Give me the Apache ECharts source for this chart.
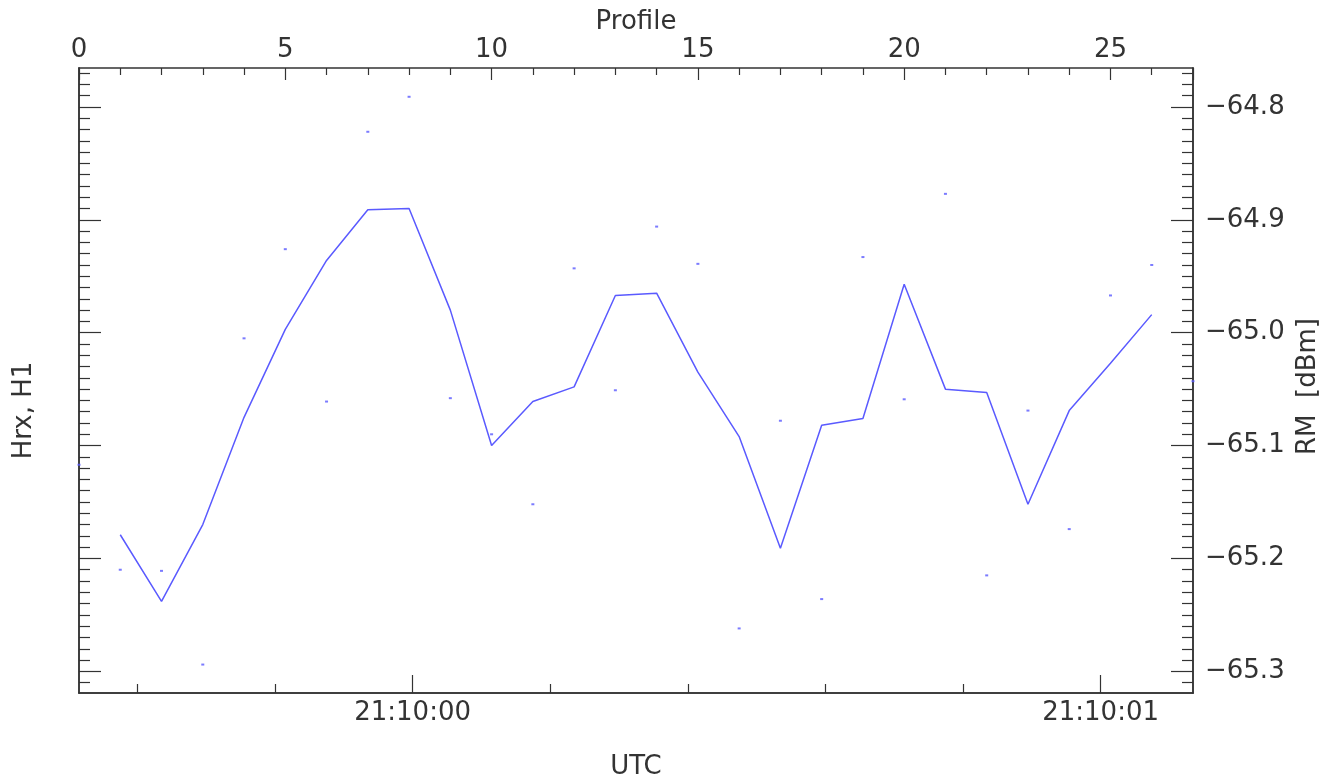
<!DOCTYPE html>
<html>
<head>
<meta charset="utf-8">
<script src="https://cdn.jsdelivr.net/npm/echarts@6/dist/echarts.min.js"></script>
<style>
html,body{margin:0;padding:0;background:#fff;}
#chart{width:1341px;height:780px;}
</style>
</head>
<body>
<div id="chart"></div>
<script>
// Profile numbers for the single-sample dots (0..27) and the smoothed line (1..26)
const dotProfiles = [0,1,2,3,4,5,6,7,8,9,10,11,12,13,14,15,16,17,18,19,20,21,22,23,24,25,26,27];
const dotValues = [-65.117,-65.210,-65.211,-65.294,-65.005,-64.926,-65.061,-64.822,-64.791,-65.058,
  -65.090,-65.152,-64.943,-65.051,-64.906,-64.939,-65.262,-65.078,-65.236,-64.933,
  -65.059,-64.877,-65.215,-65.069,-65.174,-64.967,-64.940,-65.043];
const lineProfiles = [1,2,3,4,5,6,7,8,9,10,11,12,13,14,15,16,17,18,19,20,21,22,23,24,25,26];
const lineValues = [-65.179,-65.238,-65.170,-65.075,-64.997,-64.936,-64.891,-64.890,-64.980,-65.100,
  -65.061,-65.048,-64.967,-64.965,-65.035,-65.092,-65.191,-65.082,-65.076,-64.957,
  -65.050,-65.053,-65.152,-65.069,-65.027,-64.984];

// Axis ranges and tick labels
const profileRange = [0, 27];
const profileTickLabels = [0, 5, 10, 15, 20, 25];
const rmRange = [-65.3192, -64.7655];
const rmMajorTicks = [-65.3,-65.2,-65.1,-65.0,-64.9,-64.8];
const rmMinorTicks = [];
for (let k = -6531; k <= -6477; k++) { if (k % 10 !== 0) rmMinorTicks.push(k/100); }
// UTC axis in seconds relative to 21:10:00
const utcRange = [-0.4849, 1.1343];
const utcMajorTicks = [0, 1];
const utcMajorLabels = ['21:10:00', '21:10:01'];
const utcMinorTicks = [-0.4,-0.2,0.2,0.4,0.6,0.8];

const FONT = 'DejaVu Sans';
const FS = 26;
const TXT = '#333';
const LINE = '#333';
const BLUE = '#5a5aff';

const chart = echarts.init(document.getElementById('chart'), null, {renderer:'canvas'});

function baseAxis(extra) {
  return Object.assign({
    type: 'value',
    splitLine: {show:false},
    axisLine: {show:true, onZero:false, lineStyle:{color:LINE, width:1.5}},
    nameMoveOverlap: false
  }, extra);
}

const option = {
  animation: false,
  backgroundColor: '#fff',
  grid: {left:79, right:148, top:68, bottom:87, containLabel:false, outerBoundsMode:'none'},
  xAxis: [
    baseAxis({
      position:'top', min:profileRange[0], max:profileRange[1], interval:5,
      name:'Profile', nameLocation:'middle', nameGap:33,
      nameTextStyle:{fontFamily:FONT, fontSize:FS, color:TXT},
      axisTick:{show:true, inside:true, length:12, lineStyle:{color:LINE, width:1.2}},
      minorTick:{show:true, splitNumber:5, length:7, lineStyle:{color:LINE, width:1.2}},
      axisLabel:{show:true, margin:5, fontFamily:FONT, fontSize:FS, color:TXT,
        customValues: profileTickLabels}
    }),
    baseAxis({
      position:'bottom', min:utcRange[0], max:utcRange[1],
      name:'UTC', nameLocation:'middle', nameGap:61,
      nameTextStyle:{fontFamily:FONT, fontSize:FS, color:TXT},
      axisTick:{show:true, inside:true, length:18, customValues:utcMajorTicks, lineStyle:{color:LINE, width:1.2}},
      axisLabel:{show:true, margin:7, fontFamily:FONT, fontSize:FS, color:TXT, customValues:utcMajorTicks,
        formatter: v => utcMajorLabels[utcMajorTicks.indexOf(Math.round(v))] || ''}
    }),
    baseAxis({
      position:'bottom', min:utcRange[0], max:utcRange[1],
      axisTick:{show:true, inside:true, length:9, customValues:utcMinorTicks, lineStyle:{color:LINE, width:1.2}},
      axisLabel:{show:false}
    })
  ],
  yAxis: [
    baseAxis({
      position:'left', min:rmRange[0], max:rmRange[1],
      name:'Hrx, H1', nameLocation:'middle', nameGap:42, nameRotate:90,
      nameTextStyle:{fontFamily:FONT, fontSize:FS, color:TXT, padding:[0,60,0,0]},
      axisTick:{show:true, inside:true, length:22, customValues:rmMajorTicks, lineStyle:{color:LINE, width:1.2}},
      axisLabel:{show:false}
    }),
    baseAxis({
      position:'left', min:rmRange[0], max:rmRange[1],
      axisTick:{show:true, inside:true, length:11, customValues:rmMinorTicks, lineStyle:{color:LINE, width:1.2}},
      axisLabel:{show:false}
    }),
    baseAxis({
      position:'right', min:rmRange[0], max:rmRange[1],
      name:'RM  [dBm]', nameLocation:'middle', nameGap:102, nameRotate:90,
      nameTextStyle:{fontFamily:FONT, fontSize:FS, color:TXT, padding:[0,12,0,0]},
      axisTick:{show:true, inside:true, length:22, customValues:rmMajorTicks, lineStyle:{color:LINE, width:1.2}},
      axisLabel:{show:true, margin:12, fontFamily:FONT, fontSize:FS, color:TXT, customValues:rmMajorTicks,
        formatter: v => (v < 0 ? '\u2212' : '') + Math.abs(v).toFixed(1)}
    }),
    baseAxis({
      position:'right', min:rmRange[0], max:rmRange[1],
      axisTick:{show:true, inside:true, length:11, customValues:rmMinorTicks, lineStyle:{color:LINE, width:1.2}},
      axisLabel:{show:false}
    })
  ],
  series: [
    {
      type:'line', xAxisIndex:0, yAxisIndex:0,
      data: lineProfiles.map((p,i) => [p, lineValues[i]]),
      showSymbol:false, symbol:'none',
      lineStyle:{color:BLUE, width:1.5},
      z:3
    },
    {
      type:'scatter', xAxisIndex:0, yAxisIndex:0,
      data: dotProfiles.map((p,i) => [p, dotValues[i]]),
      symbol:'rect', symbolSize:[3,2],
      itemStyle:{color:BLUE},
      z:4
    }
  ]
};
chart.setOption(option);
</script>
</body>
</html>
